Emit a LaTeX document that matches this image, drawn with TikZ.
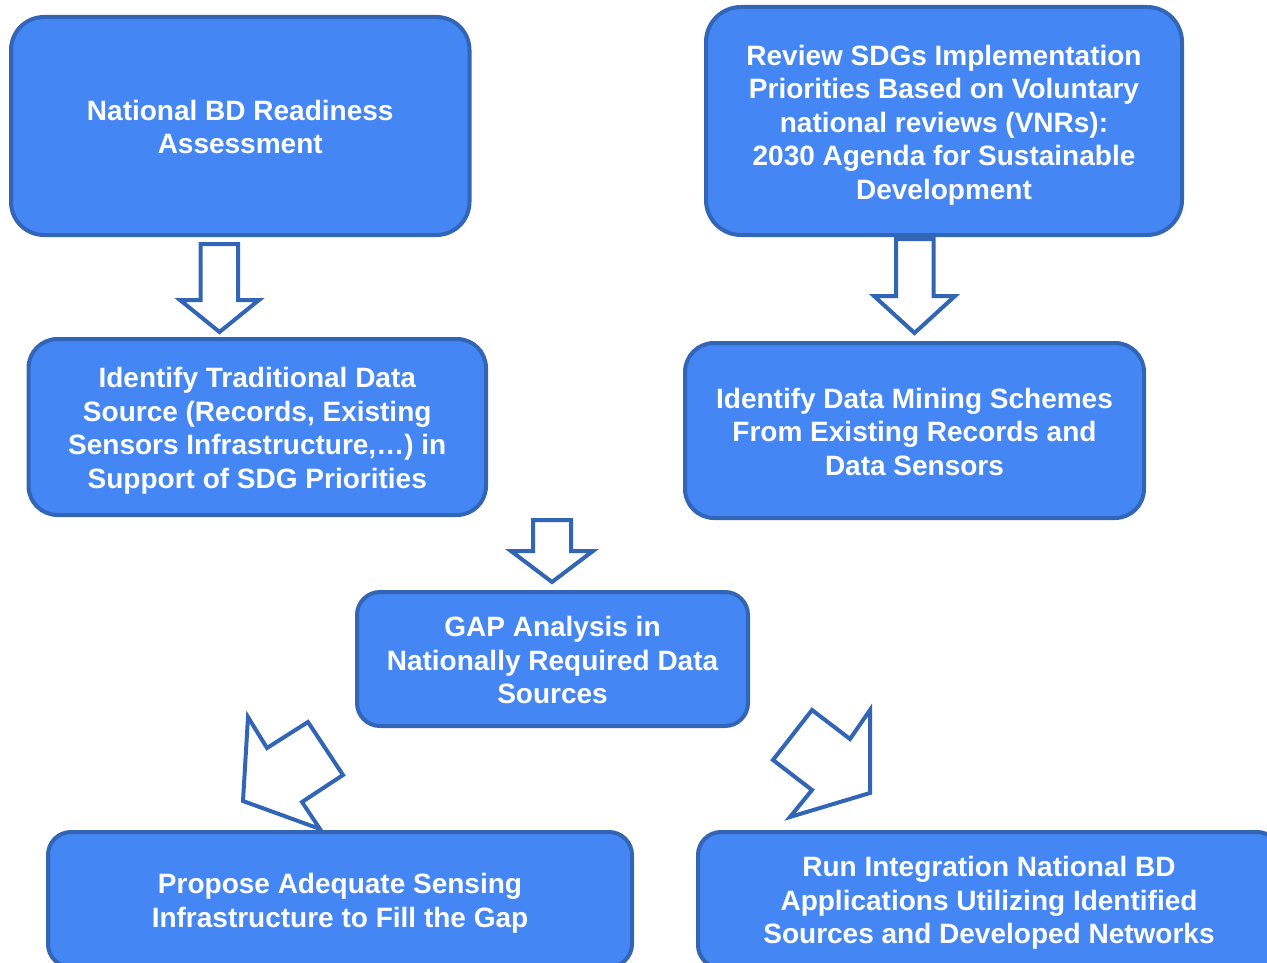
\documentclass[tikz,border=0pt]{standalone}
\usepackage{fontspec}
\setmainfont{Liberation Sans}
\definecolor{boxfill}{HTML}{4486F4}
\definecolor{boxline}{HTML}{3265B6}
\begin{document}
\begin{tikzpicture}[x=1pt,y=-1pt,
  box/.style={draw=boxline, fill=boxfill, line width=4pt, inner sep=0pt, outer sep=0pt},
  txt/.style={text=white, align=center, inner sep=0pt, text depth=0pt,
    font=\fontsize{28}{33.5}\selectfont\bfseries},
  blockarrow/.style={draw=boxline, fill=white, line width=4pt, line join=miter}]
\useasboundingbox (0,0) rectangle (1267,963);
\clip (0,0) rectangle (1267,963);

\node[box, minimum width=458.5pt, minimum height=218pt, rounded corners=33pt] (b1) at (240.25,126) {};
\node[box, minimum width=476pt, minimum height=228pt, rounded corners=35pt] (b2) at (944,121) {};
\node[box, minimum width=457.5pt, minimum height=176pt, rounded corners=29pt] (b3) at (257.25,427) {};
\node[box, minimum width=459pt, minimum height=175pt, rounded corners=29pt] (b4) at (914.5,430.5) {};
\node[box, minimum width=391pt, minimum height=134pt, rounded corners=23pt] (b5) at (552.5,659) {};
\node[box, minimum width=584pt, minimum height=135pt, rounded corners=23pt] (b6) at (340,899.5) {};
\node[box, minimum width=582pt, minimum height=136pt, rounded corners=23pt] (b7) at (989,900) {};

\node[txt] (t1) at ([yshift=-1pt]b1.center) {National BD Readiness\\Assessment};
\node[txt] (t2) at ([yshift=-1pt]b2.center) {Review SDGs Implementation\\Priorities Based on Voluntary\\national reviews (VNRs):\\2030 Agenda for Sustainable\\Development};
\node[txt] (t3) at ([yshift=-1pt]b3.center) {Identify Traditional Data\\Source (Records, Existing\\Sensors Infrastructure,\ldots) in\\Support of SDG Priorities};
\node[txt] (t4) at ([yshift=-1pt]b4.center) {Identify Data Mining Schemes\\From Existing Records and\\Data Sensors};
\node[txt] (t5) at ([yshift=-1pt]b5.center) {GAP Analysis in\\Nationally Required Data\\Sources};
\node[txt] (t6) at ([yshift=-1pt]b6.center) {Propose Adequate Sensing\\Infrastructure to Fill the Gap};
\node[txt] (t7) at (b7.center) {Run Integration National BD\\Applications Utilizing Identified\\Sources and Developed Networks};

% block arrows
\draw[blockarrow] (200.5,244) -- (238,244) -- (238,300) -- (259,300) -- (219.5,332) -- (180,300) -- (200.5,300) -- cycle;
\draw[blockarrow] (896,239) -- (933.5,239) -- (933.5,296) -- (955,296) -- (914.5,333) -- (874,296) -- (896,296) -- cycle;
\draw[blockarrow] (533,520) -- (571,520) -- (571,551) -- (593,551) -- (552,582) -- (511,551) -- (533,551) -- cycle;
\draw[blockarrow] (248,717) -- (267,748) -- (308,722) -- (343,775) -- (302,802) -- (320,829) -- (243,801) -- cycle;
\draw[blockarrow] (812,710) -- (850,739) -- (870,710) -- (870,793) -- (790,817) -- (812,790) -- (773,760) -- cycle;
\end{tikzpicture}
\end{document}
